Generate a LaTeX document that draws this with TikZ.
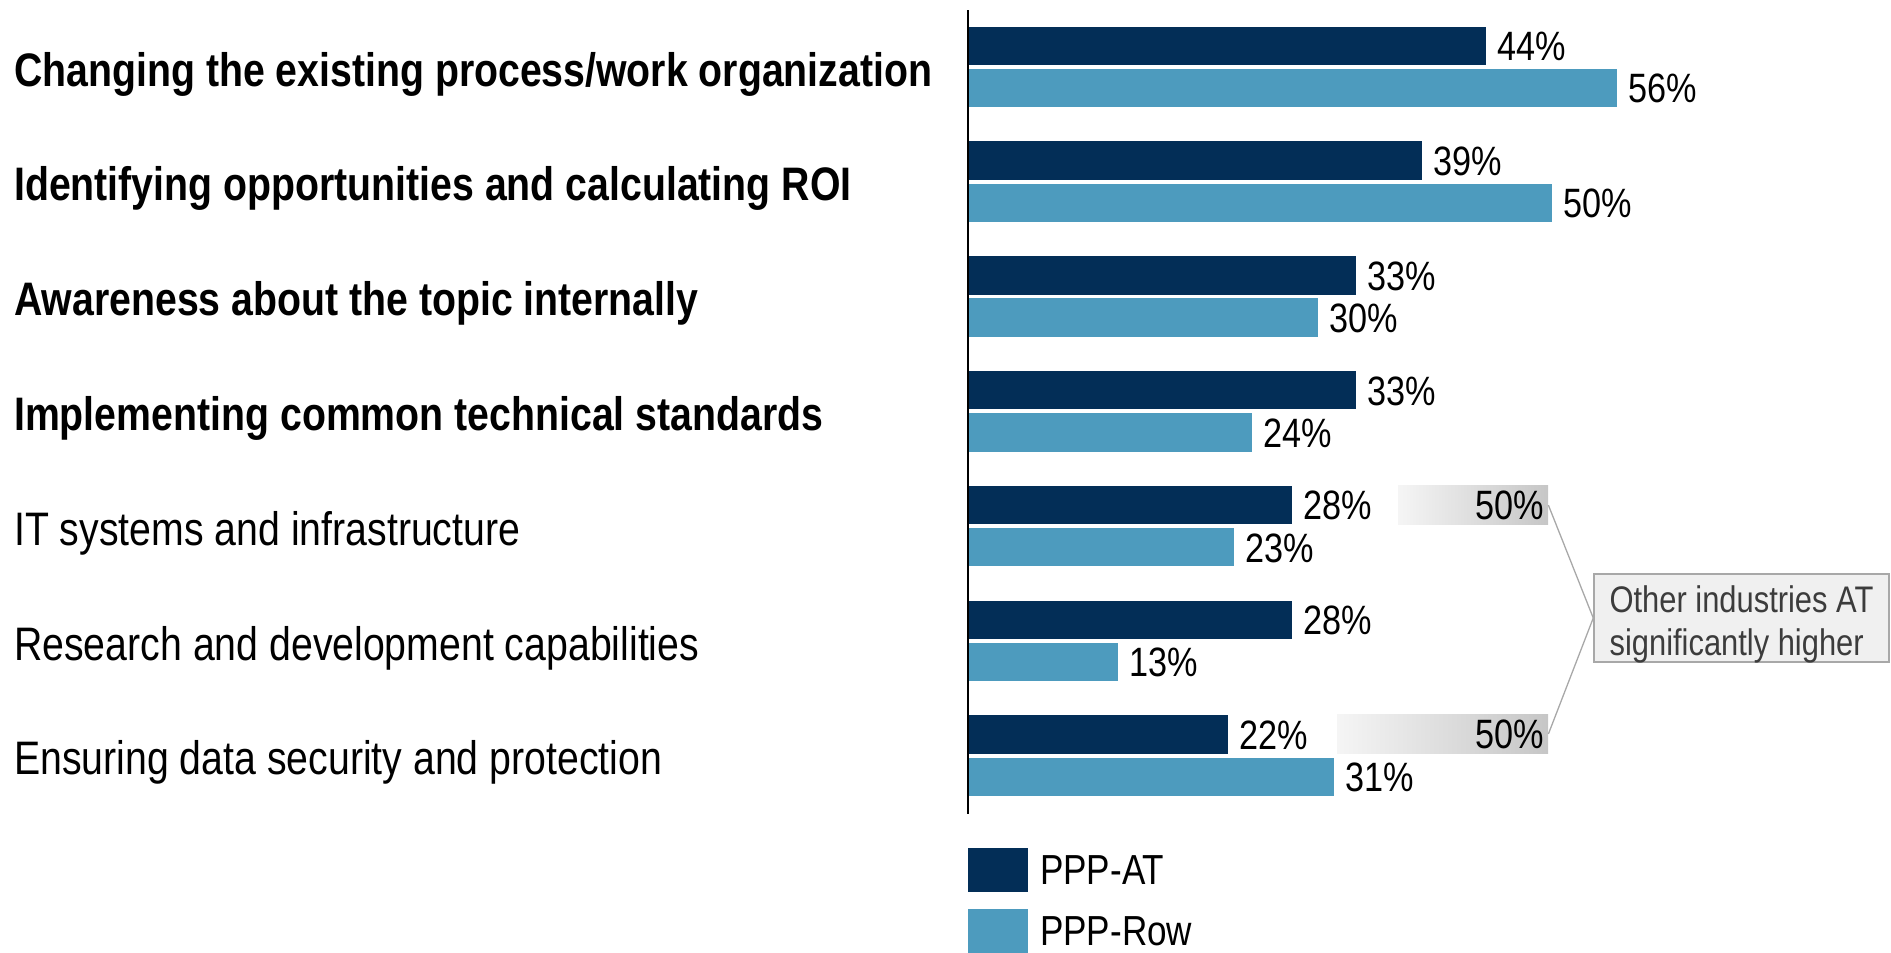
\documentclass[tikz,border=0pt]{standalone}
\usepackage{fontspec}
\setmainfont{Liberation Sans}[FakeStretch=0.835]
\definecolor{pppat}{HTML}{032E57}
\definecolor{ppprow}{HTML}{4D9BBE}
\definecolor{callfill}{HTML}{F0F0F0}
\definecolor{callborder}{HTML}{A8A8A8}
\definecolor{calltext}{HTML}{3C3C3C}
\definecolor{gleft}{HTML}{F5F5F5}
\definecolor{gright}{HTML}{C6C6C6}
\begin{document}
\begin{tikzpicture}[x=1pt,y=-1pt,
  catlbl/.style={anchor=base west, inner sep=0, font=\fontsize{47}{56}\selectfont},
  catbold/.style={catlbl, font=\fontsize{47}{56}\selectfont\bfseries},
  vallbl/.style={anchor=base west, inner sep=0, font=\fontsize{41}{49}\selectfont},
  gbox/.style={draw=none, left color=gleft, right color=gright, minimum height=38.5pt, inner sep=0, anchor=north west},
  legbox/.style={minimum width=60pt, minimum height=44pt, inner sep=0, anchor=north west},
  leglbl/.style={anchor=west, inner sep=0, font=\fontsize{42}{50}\selectfont},
  callline/.style={draw=callborder, line width=1.3pt}
]
\useasboundingbox (0,0) rectangle (1891,953);

% category labels
\node[catbold] (c0) at (14, 86) {Changing the existing process/work organization};
\node[catbold] (c1) at (14, 200.8) {Identifying opportunities and calculating ROI};
\node[catbold] (c2) at (14, 315.6) {Awareness about the topic internally};
\node[catbold] (c3) at (14, 430.4) {Implementing common technical standards};
\node[catlbl] (c4) at (14, 545.2) {IT systems and infrastructure};
\node[catlbl] (c5) at (14, 660) {Research and development capabilities};
\node[catlbl] (c6) at (14, 774.8) {Ensuring data security and protection};

% gradient comparison boxes
\node[gbox, minimum width=150pt] (g1) at (1398, 485.7) {};
\node[anchor=east, inner sep=0, font=\fontsize{41}{49}\selectfont] (g1t) at ([xshift=-4pt]g1.east) {50\%};
\node[gbox, minimum width=211pt] (g2) at (1337, 714.5) {};
\node[anchor=east, inner sep=0, font=\fontsize{41}{49}\selectfont] (g2t) at ([xshift=-4pt]g2.east) {50\%};

% bars: value / bar end (px)
\foreach \a/\ea/\b/\eb [count=\i from 0] in
  {44/1486/56/1617, 39/1422/50/1552, 33/1356/30/1318, 33/1356/24/1252,
   28/1292/23/1234, 28/1292/13/1118, 22/1228/31/1334} {
  \pgfmathsetmacro{\yt}{26.5+114.8*\i}
  \fill[pppat] (969,\yt) rectangle (\ea,\yt+38.5);
  \fill[ppprow] (969,\yt+42.2) rectangle (\eb,\yt+80.7);
  \node[vallbl] (va\i) at (\ea+11,\yt+19.25+15) {\a\%};
  \node[vallbl] (vb\i) at (\eb+11,\yt+42.2+19.25+15) {\b\%};
}

% axis
\draw[line width=2.5pt] (968,10) -- (968,814);

% callout
\node[draw=callborder, fill=callfill, line width=1.5pt, minimum width=295pt, minimum height=88pt,
      inner sep=0] (call) at (1741.5,618) {};
\node[align=left, inner sep=0, text=calltext, font=\fontsize{37}{43}\selectfont] (calltxt)
      at ([yshift=-6pt]call.center) {Other industries AT\\significantly higher};
\draw[callline] (g1.east) -- (call.west);
\draw[callline] (g2.east) -- (call.west);

% legend
\node[legbox, fill=pppat] (la) at (968,848) {};
\node[leglbl] (lat) at (1040,870) {PPP-AT};
\node[legbox, fill=ppprow] (lr) at (968,909) {};
\node[leglbl] (lrt) at (1040,931) {PPP-Row};
\end{tikzpicture}
\end{document}
